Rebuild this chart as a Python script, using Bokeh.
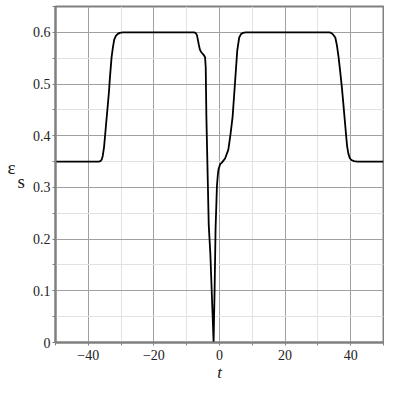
from bokeh.plotting import figure
from bokeh.models import FixedTicker
from bokeh.embed import file_html
from bokeh.resources import INLINE

# data
t_vals = [-50, -36.8, -36.3, -35.9, -35.6, -35.2, -34.9, -34.5, -34.1, -33.7, -33.4,
          -32.9, -32.5, -32.1, -31.6, -31.0, -30.4, -29.5, -28.5,
          -7.8, -7.3, -6.9, -6.6, -6.3, -6.0, -5.6, -5.2, -4.8, -4.4, -4.2, -4.0,
          -3.28, -2.8, -1.8, -1.5, -1.2, -0.78, -0.5, -0.3, 0.2, 0.72, 1.7, 2.7,
          3.4, 4.0, 4.7, 5.4, 6.0, 6.6, 7.2, 8.0,
          33.5, 34.0, 34.6, 35.3, 35.8, 36.3, 36.8, 37.3, 37.7, 38.1, 38.5, 38.9,
          39.3, 39.7, 40.2, 41.0, 42.0, 50]
eps_vals = [0.350, 0.350, 0.351, 0.354, 0.361, 0.378, 0.399, 0.428, 0.456, 0.485, 0.513,
            0.552, 0.571, 0.586, 0.593, 0.597, 0.599, 0.600, 0.600,
            0.600, 0.599, 0.595, 0.586, 0.576, 0.567, 0.562, 0.559, 0.556, 0.552, 0.532, 0.437,
            0.227, 0.173, 0.0, 0.1, 0.22, 0.303, 0.325, 0.335, 0.345, 0.348, 0.356, 0.373,
            0.405, 0.437, 0.500, 0.564, 0.590, 0.597, 0.599, 0.600,
            0.600, 0.599, 0.596, 0.590, 0.575, 0.552, 0.524, 0.494, 0.466, 0.437, 0.408, 0.380,
            0.365, 0.357, 0.353, 0.351, 0.350, 0.350]

x_ticks = [-40, -20, 0, 20, 40]
x_minor = [-50, -30, -10, 10, 30, 50]
x_labels = {-40: "\u221240", -20: "\u221220", 0: "0", 20: "20", 40: "40"}
y_ticks = [0, 0.1, 0.2, 0.3, 0.4, 0.5, 0.6]
y_minor = [0.05, 0.15, 0.25, 0.35, 0.45, 0.55, 0.65]
y_labels = {0: "0", 0.1: "0.1", 0.2: "0.2", 0.3: "0.3", 0.4: "0.4", 0.5: "0.5", 0.6: "0.6"}

W, H = 384, 384
p = figure(width=W, height=H, x_range=(-50, 50), y_range=(0, 0.65),
           output_backend="svg", toolbar_location=None, title=None,
           min_border_left=55, min_border_right=1, min_border_top=6, min_border_bottom=38)

p.line(t_vals, eps_vals, line_color="black", line_width=1.8)

grey = "#808080"
p.outline_line_color = grey
p.outline_line_width = 2
p.outline_line_alpha = 1

p.xaxis.ticker = FixedTicker(ticks=x_ticks, minor_ticks=x_minor)
p.yaxis.ticker = FixedTicker(ticks=y_ticks, minor_ticks=y_minor)
p.xaxis.major_label_overrides = x_labels
p.yaxis.major_label_overrides = y_labels

for ax in (p.xaxis, p.yaxis):
    ax.axis_line_color = grey
    ax.axis_line_width = 2
    ax.major_tick_line_color = grey
    ax.minor_tick_line_color = grey
    ax.major_tick_in = 0
    ax.major_tick_out = 3
    ax.minor_tick_in = 0
    ax.minor_tick_out = 3
    ax.major_label_text_font = "Liberation Serif"
    ax.major_label_text_font_size = "14px"
    ax.major_label_text_color = "#222222"
    ax.axis_label_text_font = "Liberation Serif"
    ax.axis_label_text_color = "#222222"
p.xaxis.major_label_standoff = 4
p.yaxis.major_label_standoff = 2

p.xaxis.axis_label = "t"
p.xaxis.axis_label_text_font_style = "italic"
p.xaxis.axis_label_text_font_size = "17px"
p.xaxis.axis_label_standoff = 0

p.yaxis.axis_label = "\u03b5\u00a0\u00a0\ns"
p.yaxis.axis_label_orientation = "horizontal"
p.yaxis.axis_label_text_font_style = "normal"
p.yaxis.axis_label_text_font_size = "19px"
p.yaxis.axis_label_text_line_height = 0.7
p.yaxis.axis_label_standoff = 5

p.xgrid.grid_line_color = "#a0a0a0"
p.ygrid.grid_line_color = "#a0a0a0"
p.xgrid.minor_grid_line_color = "#e2e2e2"
p.ygrid.minor_grid_line_color = "#e2e2e2"

open("out.html", "w").write(file_html(p, INLINE))
